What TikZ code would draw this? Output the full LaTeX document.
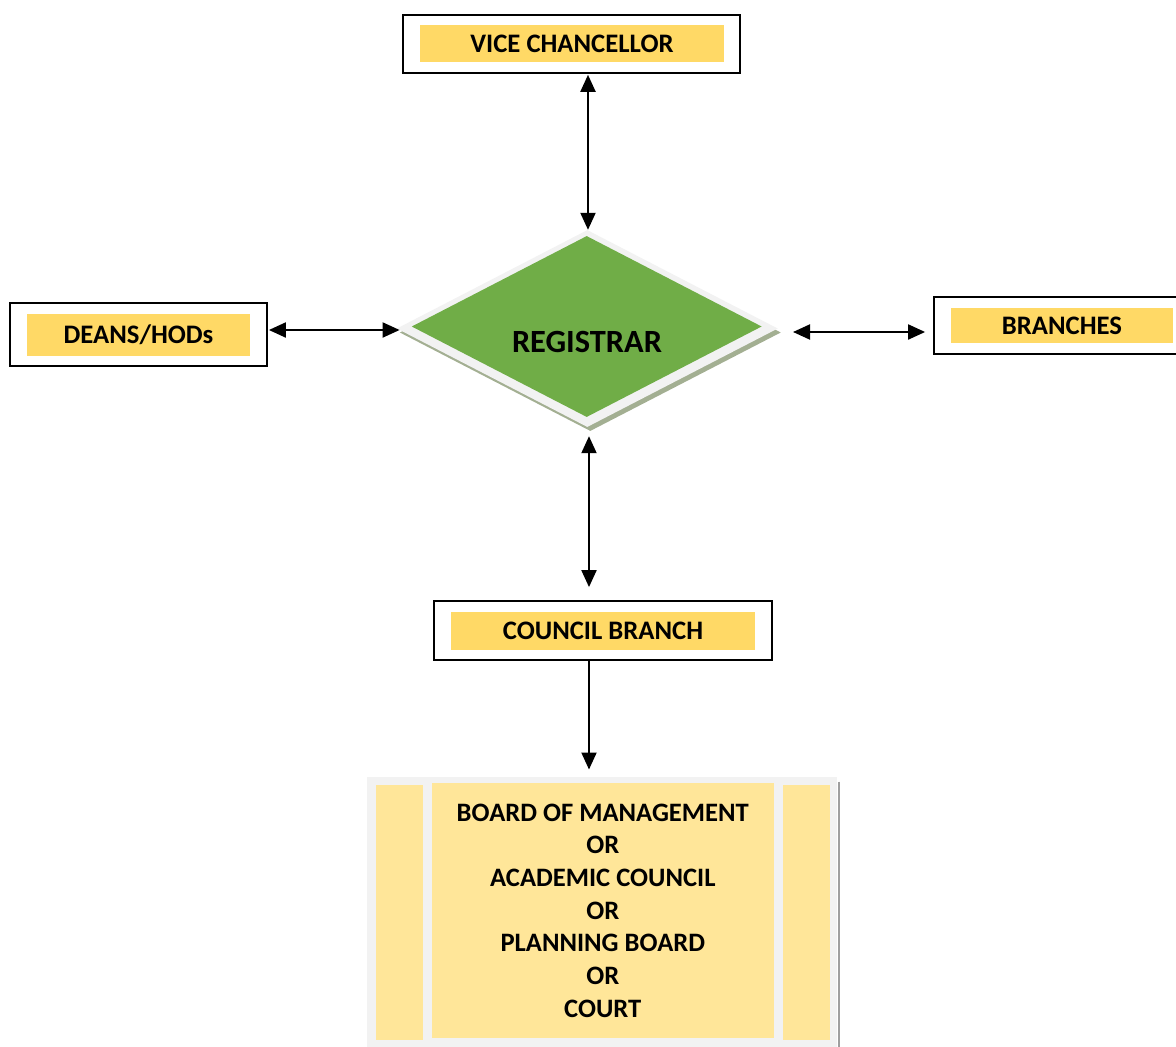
\documentclass[tikz,border=0pt]{standalone}
\usepackage{fontspec}
\setmainfont{Carlito}
\usetikzlibrary{arrows.meta,shapes.geometric}
\definecolor{titleyellow}{HTML}{FFD966}
\definecolor{paleyellow}{HTML}{FFE699}
\definecolor{palegray}{HTML}{F2F2F2}
\definecolor{regreen}{HTML}{70AD47}
\definecolor{shadowgreen}{HTML}{A3AF92}
\begin{document}
\begin{tikzpicture}[x=1pt,y=-1pt,
  outerbox/.style={draw=black,line width=1.8pt,fill=white,inner sep=0pt},
  titlebox/.style={fill=titleyellow,inner sep=0pt,font=\bfseries\fontsize{26.7}{32}\selectfont},
  link/.style={line width=2pt,{Triangle[length=17pt,width=15pt]}-{Triangle[length=17pt,width=15pt]}},
  onelink/.style={line width=2pt,-{Triangle[length=17pt,width=15pt]}},
  column/.style={fill=paleyellow,inner sep=0pt}]
\useasboundingbox (0,0) rectangle (1176,1047);

% top: vice chancellor
\node[outerbox,minimum width=337,minimum height=58] (vc) at (571.5,44) {};
\node[titlebox,minimum width=304,minimum height=37] (vct) at (572,43.5) {VICE CHANCELLOR};

% left: deans
\node[outerbox,minimum width=257,minimum height=63] (deans) at (138.5,334.5) {};
\node[titlebox,minimum width=223,minimum height=42] (deanst) at (138.5,335) {DEANS/HODs};

% right: branches
\node[outerbox,minimum width=250,minimum height=57] (branches) at (1059,325.5) {};
\node[titlebox,minimum width=222,minimum height=35] (branchest) at (1062,325.5) {BRANCHES};

% council branch
\node[outerbox,minimum width=338,minimum height=59] (council) at (603,630.5) {};
\node[titlebox,minimum width=304,minimum height=38] (councilt) at (603,631) {COUNCIL BRANCH};

% registrar diamond: shadow, pale rim, green face
\node[diamond,fill=shadowgreen,inner sep=0pt,minimum width=381,minimum height=197] (regshadow) at (590.3,332.5) {};
\node[diamond,fill=palegray,inner sep=0pt,minimum width=381,minimum height=197] (reg) at (587.3,328.5) {};
\node[diamond,fill=regreen,inner sep=0pt,minimum width=350,minimum height=181] (regface) at (586.7,326.5) {};
\node[font=\bfseries\fontsize{32.4}{38}\selectfont] (regt) at (587,342) {REGISTRAR};

% decision bodies
\node[fill=palegray,inner sep=0pt,minimum width=470,minimum height=280] (board) at (602.3,916.7) {};
\draw[draw=gray!75,line width=2.5pt] (board.north east) ++(1.3,5) -- ++(0,275);
\node[column,minimum width=47.3,minimum height=255] (colleft) at (399.7,912.5) {};
\node[column,minimum width=47.3,minimum height=255] (colright) at (806.3,912.5) {};
\node[column,minimum width=342.3,minimum height=255,align=center,
  font=\bfseries\fontsize{26.6}{32.7}\selectfont] (colmid) at (602.8,910.5)
  {BOARD OF MANAGEMENT\\OR\\ACADEMIC COUNCIL\\OR\\PLANNING BOARD\\OR\\COURT};

% connectors
\draw[link] (reg.north -| 588,0) ++(0,-155) coordinate (vcend) -- (reg.north -| 588,0);
\draw[link,shorten <=1pt,shorten >=-3pt] (deans.east |- 0,330) -- (reg.west |- 0,330);
\draw[link,shorten <=15pt,shorten >=8pt] (reg.east |- 0,332) -- (branches.west |- 0,332);
\draw[link,shorten <=5pt,shorten >=13pt] (regshadow.south -| 589,0) -- (council.north -| 589,0);
\draw[onelink,shorten >=7pt] (council.south -| 589,0) -- (board.north -| 589,0);
\end{tikzpicture}
\end{document}
